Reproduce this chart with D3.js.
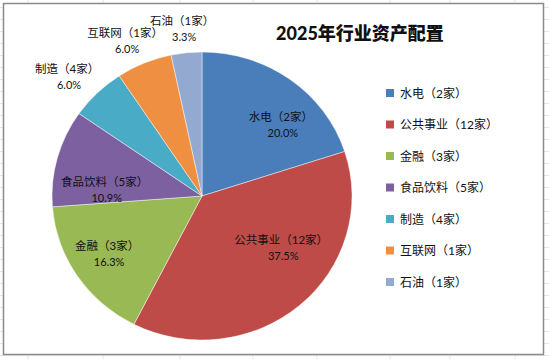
<!DOCTYPE html>
<html><head><meta charset="utf-8">
<script src="https://cdn.jsdelivr.net/npm/d3@7"></script>
<style>
html,body{margin:0;padding:0;background:#fff;}
svg{display:block;}
text{font-family:Lato,"Noto Sans CJK SC",sans-serif;}
</style></head>
<body><svg id="c" width="549" height="359"></svg>
<script>
// ---- data ----
const title = "2025年行业资产配置";
const categories = ["水电","公共事业","金融","食品饮料","制造","互联网","石油"];
const counts = [2,12,3,5,4,1,1];
const shares = [20.0,37.5,16.3,10.9,6.0,6.0,3.3];
const colors = ["#4A7EBB","#BE4B48","#98B954","#7D60A0","#4AABC6","#EE8F42","#93A9CF"];
// label placement (angle in degrees clockwise from top, radius factor)
const labelAngle = [46.9,124.4,237.5,273.7,312.5,334.5,353.5];
const labelRadius = [0.72,0.64,0.75,0.65,1.22,1.19,1.17];

const svg = d3.select("#c");
const W = 549, H = 359;

// spreadsheet grid behind the chart
const colX = [28,103,180,253,317,390,450,515];
svg.selectAll("line.col").data(colX).join("line")
  .attr("x1",d=>d).attr("x2",d=>d).attr("y1",0).attr("y2",H)
  .attr("stroke","#e3e3e3").attr("stroke-width",1);
svg.selectAll("line.row").data(d3.range(7,H,12)).join("line")
  .attr("x1",0).attr("x2",W).attr("y1",d=>d+0.5).attr("y2",d=>d+0.5)
  .attr("stroke","#e6e6e6").attr("stroke-width",1);

// chart frame
svg.append("rect").attr("x",3.5).attr("y",3.5).attr("width",540).attr("height",351)
  .attr("fill","#fff").attr("stroke","#8a8a8a").attr("stroke-width",1.5);

// title
svg.append("text").attr("x",360).attr("y",40).attr("text-anchor","middle")
  .attr("font-size",18).attr("font-weight",900).attr("fill","#111").text(title);

// pie
const cx = 202, cy = 196, rx = 150, ry = 144;
const data = categories.map((c,i)=>({name:c,count:counts[i],share:shares[i],color:colors[i],i}));
const pie = d3.pie().value(d=>d.share).sort(null);
const arcs = pie(data);
const arc = d3.arc().innerRadius(0).outerRadius(ry);
const g = svg.append("g").attr("transform",`translate(${cx},${cy}) scale(${rx/ry},1)`);
g.selectAll("path").data(arcs).join("path")
  .attr("d",arc).attr("fill",d=>d.data.color)
  .attr("stroke","rgba(255,255,255,0.55)").attr("stroke-width",0.8);

// data labels
const lab = svg.append("g");
arcs.forEach((a,i)=>{
  const ang = labelAngle[i]*Math.PI/180, f = labelRadius[i];
  const x = cx + rx*f*Math.sin(ang), y = cy - ry*f*Math.cos(ang);
  const t = lab.append("text").attr("text-anchor","middle").attr("font-size",11.5).attr("fill","#111");
  t.append("tspan").attr("x",x).attr("y",y-4).text(`${a.data.name}（${a.data.count}家）`);
  t.append("tspan").attr("x",x+2).attr("y",y+12).attr("font-size",11).text(`${a.data.share.toFixed(1)}%`);
});

// legend
const ly = d3.scalePoint().domain(categories).range([93,282]);
const leg = svg.append("g");
data.forEach(d=>{
  leg.append("rect").attr("x",386).attr("y",ly(d.name)-4).attr("width",8).attr("height",8).attr("fill",d.color);
  leg.append("text").attr("x",400).attr("y",ly(d.name)+4.5).attr("font-size",12).attr("fill","#111")
    .text(`${d.name}（${d.count}家）`);
});
</script></body></html>
